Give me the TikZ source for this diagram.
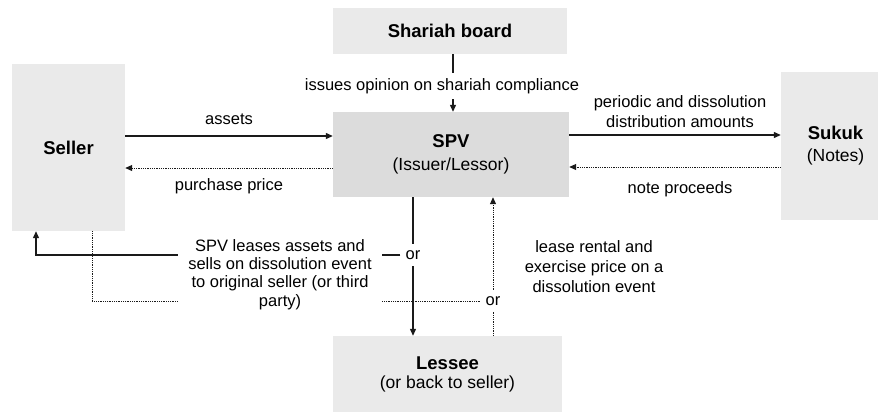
\documentclass[tikz,border=0pt]{standalone}
\usepackage{fontspec}
\setmainfont{Liberation Sans}
\usetikzlibrary{arrows.meta,backgrounds}
\definecolor{boxlight}{HTML}{EAEAEA}
\definecolor{boxdark}{HTML}{DCDCDC}
\definecolor{lineink}{HTML}{1A1A1A}
\begin{document}
\begin{tikzpicture}[x=1pt,y=-1pt,
  box/.style={fill=boxlight, draw=none, align=center, inner sep=0pt},
  title/.style={font=\bfseries\fontsize{18.5}{22}\selectfont},
  lbl/.style={font=\fontsize{16.5}{19}\selectfont, align=center, inner sep=2pt},
  solidline/.style={draw=lineink, line width=1.2pt},
  dotline/.style={draw=lineink, line width=0.9pt, dash pattern=on 0.9pt off 0.9pt},
  tip/.style={-{Triangle[length=7pt,width=6pt]}},
  ornode/.style={font=\fontsize{16.5}{19}\selectfont, fill=white, inner xsep=5pt, inner ysep=6pt}
]
\useasboundingbox (0,0) rectangle (878,413);

% boxes
\node[box, minimum width=234pt, minimum height=46pt, title] (shariah) at (450,31) {Shariah board};
\node[box, fill=boxdark, minimum width=236pt, minimum height=85pt, font=\fontsize{17.5}{23}\selectfont] (spv) at (451,154.5)
  {{\bfseries\fontsize{18.5}{23}\selectfont SPV}\\(Issuer/Lessor)};
\node[box, minimum width=113pt, minimum height=167pt, title] (seller) at (68.5,147.5) {Seller};
\node[box, minimum width=109pt, minimum height=148pt, font=\fontsize{17.5}{22}\selectfont] (sukuk) at (835.5,146)
  {{\bfseries\fontsize{18.5}{22}\selectfont Sukuk}\\(Notes)};
\node[box, minimum width=229pt, minimum height=76pt, font=\fontsize{17.5}{19}\selectfont] (lessee) at (447.5,374)
  {{\bfseries\fontsize{18.5}{19}\selectfont Lessee}\\(or back to seller)};

% labels
\node[lbl] (lassets) at (229,119) {assets};
\node[lbl] (lprice) at (229,186) {purchase price};
\node[lbl, font=\fontsize{16.5}{20}\selectfont] (lperiodic) at (680,112) {periodic and dissolution\\distribution amounts};
\node[lbl] (lproceeds) at (680,189) {note proceeds};
\node[lbl, fill=white, inner xsep=2pt, inner ysep=5pt] (lopinion) at (442,86) {issues opinion on shariah compliance};
\node[lbl, fill=white, inner xsep=10pt, inner ysep=3pt, font=\fontsize{16.5}{18.3}\selectfont] (lleases) at (280,274.5)
  {SPV leases assets and\\sells on dissolution event\\to original seller (or third\\party)};
\node[lbl, font=\fontsize{16.5}{20}\selectfont] (lrental) at (594,267) {lease rental and\\exercise price on a\\dissolution event};
\node[ornode] (or1) at (413,255) {or};
\node[ornode] (or2) at (493,301) {or};

\coordinate (sx) at (453,0);
\coordinate (sellerup) at (36,0);
\coordinate (sellerdot) at (92,0);

\begin{pgfonlayer}{background}
% shariah board to SPV
\draw[solidline] (shariah.south -| sx) -- (lopinion.north -| sx);
\draw[solidline, tip] (lopinion.south -| sx) -- (spv.north -| sx);
% seller <-> SPV
\draw[solidline, tip] ([yshift=18.5pt]spv.west -| seller.east) -- ([yshift=18.5pt]spv.west);
\draw[dotline, tip] ([yshift=-13.5pt]spv.west) -- ([yshift=-13.5pt]spv.west -| seller.east);
% SPV <-> sukuk
\draw[solidline, tip] ([yshift=19.5pt]spv.east) -- ([yshift=19.5pt]spv.east -| sukuk.west);
\draw[dotline, tip] ([yshift=-12.5pt]spv.east -| sukuk.west) -- ([yshift=-12.5pt]spv.east);
% SPV down to lessee or seller
\draw[solidline] (spv.south -| or1) -- (or1.north);
\draw[solidline, tip] (or1.south) -- (lessee.north -| or1);
\draw[solidline, tip] (or1.west) -| (seller.south -| sellerup);
% payments back to SPV
\draw[dotline] (seller.south -| sellerdot) |- (or2.west);
\draw[dotline] (lessee.north -| or2) -- (or2.south);
\draw[dotline, tip] (or2.north) -- (spv.south -| or2);
\end{pgfonlayer}
\end{tikzpicture}
\end{document}
